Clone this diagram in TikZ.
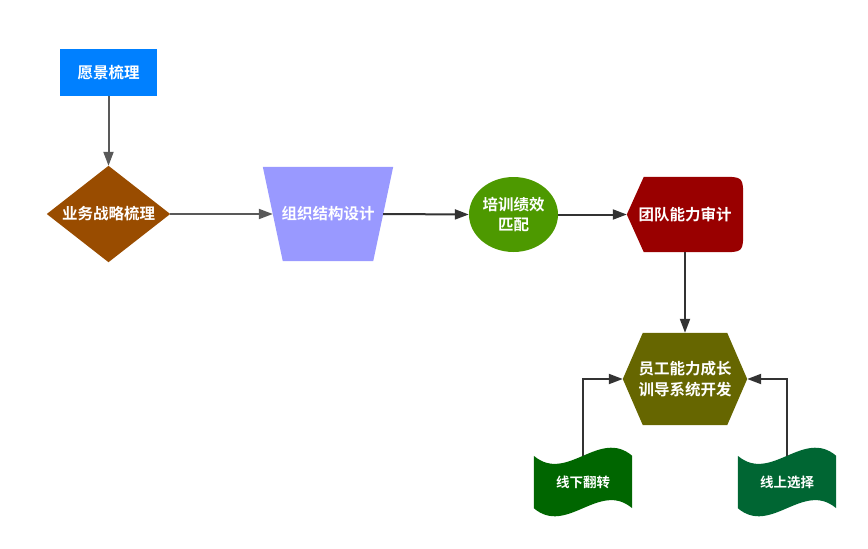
\documentclass[tikz,border=0pt]{standalone}
\usepackage{fontspec}
\setmainfont{Noto Sans CJK SC}[BoldFont={Noto Sans CJK SC Bold}]
\usetikzlibrary{shapes.geometric,arrows.meta,calc,backgrounds}
\definecolor{cA}{HTML}{0080FF}
\definecolor{cB}{HTML}{994C00}
\definecolor{cC}{HTML}{9999FF}
\definecolor{cD}{HTML}{4D9900}
\definecolor{cE}{HTML}{990000}
\definecolor{cF}{HTML}{666600}
\definecolor{cG}{HTML}{006600}
\definecolor{cH}{HTML}{006633}
\definecolor{lnA}{HTML}{595959}
\definecolor{lnB}{HTML}{333333}
\tikzset{
  lbl/.style={text=white, font=\bfseries\fontsize{15.5}{20.5}\selectfont, inner sep=0pt, align=center},
  slbl/.style={text=white, font=\bfseries\fontsize{13.5}{17}\selectfont, inner sep=0pt, align=center},
  arr/.style={line width=2pt, draw=#1, -{Triangle[length=14pt,width=10pt]}},
  arr/.default=lnB
}
\newcommand\wavefill[2]{%
  \fill[#2] (#1.north west) .. controls +(33,28) and +(-33,-28) .. (#1.north east)
    -- (#1.south east) .. controls +(-33,-28) and +(33,28) .. (#1.south west) -- cycle;}
\begin{document}
\begin{tikzpicture}[x=1pt,y=-1pt]
\useasboundingbox (0,0) rectangle (868,549);
\node[lbl, fill=cA, minimum width=97pt, minimum height=47pt] (vis) at (108.5,72.5) {愿景梳理};
\node[lbl, minimum width=123pt, minimum height=96pt] (biz) at (108.5,214) {业务战略梳理};
\node[lbl, minimum width=110pt, minimum height=94pt] (org) at (328,214) {组织结构设计};
\node[lbl, ellipse, fill=cD, minimum width=89pt, minimum height=75pt] (trn) at (513.5,214.5) {培训绩效\\匹配};
\node[lbl, minimum width=116pt, minimum height=75pt] (aud) at (685,214.5) {团队能力审计};
\node[lbl, minimum width=124pt, minimum height=92pt] (dev) at (685,379) {员工能力成长\\训导系统开发};
\node[slbl, minimum width=98pt, minimum height=52pt] (off) at (583,482) {线下翻转};
\node[slbl, minimum width=98pt, minimum height=52pt] (on) at (787,482) {线上选择};
\begin{scope}[on background layer]
  \fill[cB] (biz.north) -- (biz.east) -- (biz.south) -- (biz.west) -- cycle;
  \fill[cC] ($(org.north west)+(-10,0)$) -- ($(org.north east)+(10,0)$) -- ($(org.south east)+(-10,0)$) -- ($(org.south west)+(10,0)$) -- cycle;
  \fill[cE] (aud.west) -- ($(aud.north west)+(17,0)$) -- ($(aud.north east)+(-22,0)$) .. controls (aud.north east) .. ($(aud.north east)+(0,22)$)
    -- ($(aud.south east)+(0,-22)$) .. controls (aud.south east) .. ($(aud.south east)+(-22,0)$) -- ($(aud.south west)+(17,0)$) -- cycle;
  \fill[cF] (dev.west) -- ($(dev.north west)+(20,0)$) -- ($(dev.north east)+(-20,0)$) -- (dev.east) -- ($(dev.south east)+(-20,0)$) -- ($(dev.south west)+(20,0)$) -- cycle;
  \wavefill{off}{cG}
  \wavefill{on}{cH}
\end{scope}
\draw[arr=lnA] (vis.south) -- (biz.north);
\draw[arr=lnA] (biz.east) -- (org.west);
\draw[arr] (org.east) -- (trn.west);
\draw[arr] (trn.east) -- (aud.west);
\draw[arr] (aud.south) -- (dev.north);
\draw[arr] (off.north) |- (dev.west);
\draw[arr] (on.north) |- (dev.east);
\end{tikzpicture}
\end{document}
